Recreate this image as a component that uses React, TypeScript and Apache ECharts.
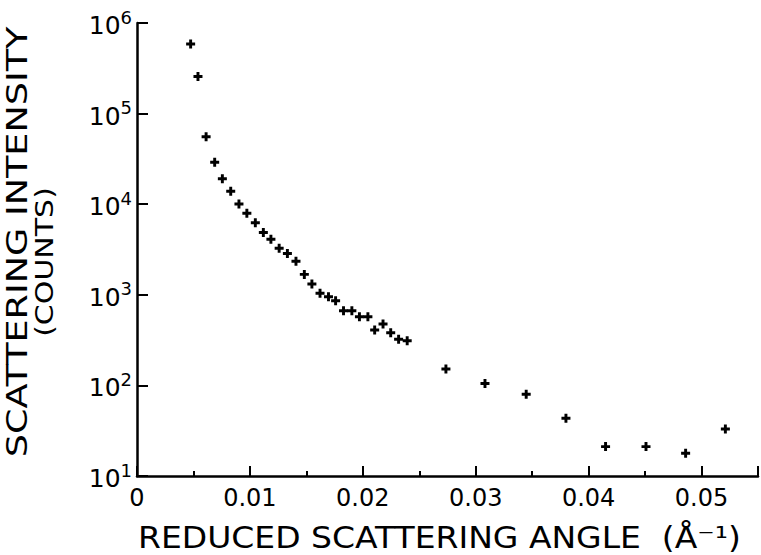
import React, { useEffect, useRef } from "react";
import * as echarts from "echarts";

const angles = [0.00475, 0.0054, 0.00612, 0.00688, 0.00756, 0.0083, 0.00903, 0.00973, 0.01048, 0.01119, 0.01186, 0.01259, 0.01332, 0.01408, 0.01482, 0.01549, 0.01621, 0.01696, 0.01759, 0.01829, 0.01903, 0.0197, 0.02045, 0.02105, 0.02179, 0.02247, 0.02317, 0.02393, 0.02736, 0.03082, 0.03447, 0.03799, 0.0415, 0.04508, 0.04859, 0.05211];
const intensities = [586000, 257000, 55600, 29100, 19100, 13900, 10050, 7960, 6250, 4870, 4100, 3270, 2860, 2350, 1680, 1316, 1040, 950, 861, 667, 667, 572, 572, 409, 476, 382, 323, 311, 152, 105, 79.7, 43.3, 21.1, 21.1, 17.8, 33.0];

const xTitle = "REDUCED SCATTERING ANGLE  (Å⁻¹)";
const yTitle = "SCATTERING INTENSITY";
const yTitle2 = "(COUNTS)";

const FONT = "DejaVu Sans";
const PLUS = "path://M2.7,0 L5.3,0 L5.3,2.7 L8,2.7 L8,5.3 L5.3,5.3 L5.3,8 L2.7,8 L2.7,5.3 L0,5.3 L0,2.7 L2.7,2.7 Z";

export default function App() {
  const ref = useRef<HTMLDivElement>(null);
  useEffect(() => {
    if (!ref.current) return;
    const chart = echarts.init(ref.current, undefined, { renderer: "svg" });
    const data = angles.map((a, i) => [a, intensities[i]]);
    chart.setOption({
      animation: false,
      backgroundColor: "#ffffff",
      grid: { left: 137, right: -2, top: 23, bottom: 79 },
      xAxis: {
        type: "value",
        min: 0,
        max: 0.055,
        interval: 0.01,
        axisLine: { show: true, lineStyle: { color: "#000", width: 2.5 } },
        axisTick: { show: true, inside: true, length: 10, lineStyle: { color: "#000", width: 2 } },
        minorTick: { show: true, splitNumber: 2, length: 5, lineStyle: { color: "#000", width: 2 } },
        splitLine: { show: false },
        minorSplitLine: { show: false },
        axisLabel: {
          color: "#000",
          fontFamily: FONT,
          fontSize: 24,
          margin: 10,
          formatter: (v: number) => {
            const k = Math.round(v * 100);
            if (Math.abs(v * 100 - k) > 1e-6) return "";
            return k === 0 ? "0" : (k / 100).toFixed(2);
          },
        },
      },
      yAxis: {
        type: "log",
        logBase: 10,
        min: 10,
        max: 1000000,
        axisLine: { show: true, lineStyle: { color: "#000", width: 2.5 } },
        axisTick: { show: true, inside: true, length: 11, lineStyle: { color: "#000", width: 2 } },
        splitLine: { show: false },
        axisLabel: {
          color: "#000",
          fontFamily: FONT,
          margin: 5,
          formatter: (v: number) => "{b|10}{s|" + Math.round(Math.log10(v)) + "}",
          rich: {
            b: { fontSize: 25, fontFamily: FONT, color: "#000", lineHeight: 30, verticalAlign: "bottom" },
            s: { fontSize: 18, fontFamily: FONT, color: "#000", lineHeight: 18, verticalAlign: "top" },
          },
        },
      },
      series: [
        {
          type: "scatter",
          data,
          symbol: PLUS,
          symbolSize: 9,
          itemStyle: { color: "#000", opacity: 1 },
        },
      ],
      graphic: [
        {
          type: "text",
          x: 138,
          y: 538,
          scaleX: 1.1,
          style: { text: xTitle, fontFamily: FONT, fontSize: 30, fill: "#000", align: "left", verticalAlign: "middle" },
        },
        {
          type: "text",
          x: 17,
          y: 242,
          rotation: Math.PI / 2,
          scaleX: 1.26,
          style: { text: yTitle, fontFamily: FONT, fontSize: 29, fill: "#000", align: "center", verticalAlign: "middle" },
        },
        {
          type: "text",
          x: 44,
          y: 262,
          rotation: Math.PI / 2,
          scaleX: 1.2,
          style: { text: yTitle2, fontFamily: FONT, fontSize: 25, fill: "#000", align: "center", verticalAlign: "middle" },
        },
      ],
    });
    return () => chart.dispose();
  }, []);
  return <div ref={ref} style={{ position: "absolute", left: 0, top: 0, width: 761, height: 555 }} />;
}
